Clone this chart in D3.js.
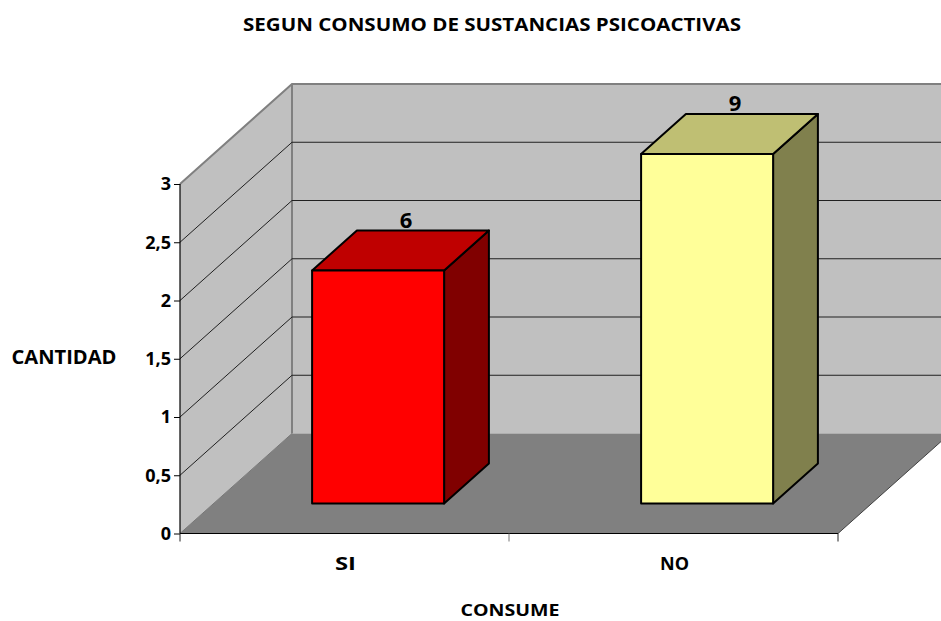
<!DOCTYPE html>
<html><head><meta charset="utf-8">
<script src="https://cdn.jsdelivr.net/npm/d3@7"></script>
<style>html,body{margin:0;padding:0;background:#fff;overflow:hidden}svg{display:block}
text{font-family:"Open Sans","DejaVu Sans",sans-serif;font-weight:700;fill:#000}</style>
</head><body><div id="chart"></div>
<script>
const categories = ["SI","NO"];
const barValues = [2,3];
const barLabels = ["6","9"];
const barFronts = ["#ff0000","#ffff99"];
const barTops = ["#bf0000","#bfbf73"];
const barSides = ["#800000","#80804d"];
const yTicks = [0,0.5,1,1.5,2,2.5,3];
const yTickLabels = ["0","0,5","1","1,5","2","2,5","3"];
const chartTitle = "SEGUN CONSUMO DE SUSTANCIAS PSICOACTIVAS";
const xTitle = "CONSUME";
const yTitle = "CANTIDAD";

const W=941,H=621;
const svg=d3.select("#chart").append("svg").attr("width",W).attr("height",H).attr("viewBox",`0 0 ${W} ${H}`);
const x=d3.scaleBand().domain(categories).range([180,838]).paddingInner(0).paddingOuter(0);
const y=d3.scaleLinear().domain([0,3]).range([533.5,184]);
const depth=d3.scaleLinear().domain([0,1]).range([0,1]);
const DX=112,DY=100;
const px=(xv,z)=>xv+DX*depth(z);
const py=(yv,z)=>yv-DY*depth(z);
const poly=(pts)=>d3.line()(pts);
const right=x.range()[1],left=x.range()[0],y0=y(0),y3=y(3);

const defs=svg.append("defs");
defs.append("clipPath").attr("id","c").append("rect").attr("width",W).attr("height",H);
const g=svg.append("g").attr("clip-path","url(#c)");

g.append("path").attr("d",poly([[px(left,1),py(y3,1)],[px(right,1),py(y3,1)],[px(right,1),py(y0,1)],[px(left,1),py(y0,1)]])+"Z").attr("fill","#c0c0c0");
g.append("path").attr("d",poly([[left,y3],[px(left,1),py(y3,1)],[px(left,1),py(y0,1)],[left,y0]])+"Z").attr("fill","#c0c0c0");
g.append("path").attr("d",poly([[left,y0],[px(left,1),py(y0,1)],[px(right,1),py(y0,1)],[right,y0]])+"Z").attr("fill","#808080");
g.append("path").attr("d",poly([[right,y0],[px(right,1),py(y0,1)]])).attr("stroke","#404040").attr("stroke-width",1).attr("fill","none");
g.append("path").attr("d",poly([[left,y0],[px(left,1),py(y0,1)]])).attr("stroke","#777").attr("fill","none");
g.append("path").attr("d",poly([[left,y3],[px(left,1),py(y3,1)],[W+5,py(y3,1)]])).attr("stroke","#808080").attr("stroke-width",2).attr("fill","none");
g.append("path").attr("d",poly([[px(left,1),py(y3,1)],[px(left,1),py(y0,1)]])).attr("stroke","#808080").attr("stroke-width",2).attr("fill","none");
yTicks.filter(t=>t>0&&t<3).forEach(t=>{
  g.append("path").attr("d",poly([[left,y(t)],[px(left,1),py(y(t),1)],[W+5,py(y(t),1)]])).attr("stroke","#202020").attr("stroke-width",1).attr("fill","none");
});
const ax=svg.append("g").attr("transform",`translate(${left},0)`).call(d3.axisLeft(y).tickValues(yTicks).tickSize(6).tickPadding(3).tickFormat((d,i)=>yTickLabels[i]));
ax.select(".domain").attr("d",`M0,${y3}V${y0}`).attr("stroke","#000").attr("stroke-width",1.2);
ax.selectAll("text").style("font-size","18px");
const bx=svg.append("g").attr("transform",`translate(0,${y0})`);
bx.append("path").attr("d",`M${left},0H${right}`).attr("stroke","#000").attr("stroke-width",1.2);
[left,x("NO"),right].forEach(v=>bx.append("path").attr("d",`M${v},0V8`).attr("stroke",v===x("NO")?"#777":"#222"));
bx.selectAll("text.cat").data(categories).join("text").attr("class","cat")
  .attr("x",d=>x(d)+x.bandwidth()/2+1).attr("y",36.5).attr("text-anchor","middle")
  .attr("textLength",d=>d==="SI"?21:29).attr("lengthAdjust","spacingAndGlyphs").style("font-size","18px").text(d=>d);

const barW=132, zf=0.3, zb=0.7;
categories.forEach((c,i)=>{
  const cx=x(c)+x.bandwidth()/2;
  const x0=px(cx-barW/2,zf), x1=x0+barW;
  const yb=py(y0,zf), yt=py(y(barValues[i]),zf);
  const d=DX*(zb-zf), e=DY*(zb-zf);
  const bg=g.append("g").attr("stroke","#000").attr("stroke-width",2).attr("stroke-linejoin","round");
  bg.append("path").attr("d",poly([[x1,yt],[x1+d,yt-e],[x1+d,yb-e],[x1,yb]])+"Z").attr("fill",barSides[i]);
  bg.append("path").attr("d",poly([[x0,yt],[x0+d,yt-e],[x1+d,yt-e],[x1,yt]])+"Z").attr("fill",barTops[i]);
  bg.append("rect").attr("x",x0).attr("y",yt).attr("width",barW).attr("height",yb-yt).attr("fill",barFronts[i]);
  svg.append("text").attr("x",x0+barW/2+d/2+5.5).attr("y",yt-e-3).attr("text-anchor","middle").style("font-size","22px").text(barLabels[i]);
});

svg.append("text").attr("x",492).attr("y",31).attr("text-anchor","middle").attr("textLength",498).attr("lengthAdjust","spacingAndGlyphs").style("font-size","18px").text(chartTitle);
svg.append("text").attr("x",510).attr("y",616).attr("text-anchor","middle").attr("textLength",99).attr("lengthAdjust","spacingAndGlyphs").style("font-size","16.5px").text(xTitle);
svg.append("text").attr("x",64).attr("y",364).attr("text-anchor","middle").attr("textLength",105).attr("lengthAdjust","spacingAndGlyphs").style("font-size","19px").text(yTitle);
</script></body></html>
